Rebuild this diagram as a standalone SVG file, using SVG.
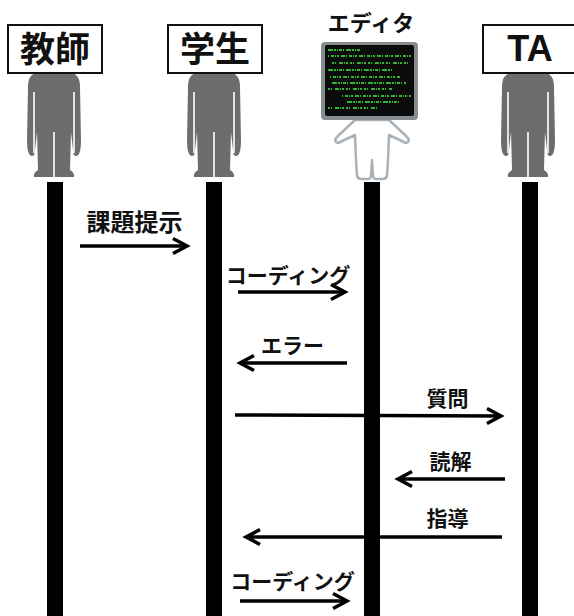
<svg xmlns="http://www.w3.org/2000/svg" xmlns:xlink="http://www.w3.org/1999/xlink" width="574" height="616" viewBox="0 0 574 616">
  <style>
    .name { fill: #fff; stroke: #111; stroke-width: 2; }
    .nameText { font-family: "Noto Sans CJK JP", "Liberation Sans", sans-serif; font-weight: bold; fill: #111; text-anchor: middle; }
    .lifeline { fill: #000; }
    .body { fill: #6d6d6d; }
    .gap { stroke: #fff; stroke-width: 1.6; fill: none; }
    .msg { stroke: #000; stroke-width: 3.5; fill: none; }
    .label { font-family: "Noto Sans CJK JP", sans-serif; font-weight: bold; font-size: 21px; fill: #111; text-anchor: middle; }
    .code { stroke: #3ef03e; stroke-width: 1.6; fill: none; }
    .c1 { stroke-dasharray: 5 1 2 1 1 1 3 1 1 2; }
    .c2 { stroke-dasharray: 1 2 3 1 1 1 2 2 4 1; }
    .c3 { stroke-dasharray: 2 1 1 3 4 1 1 1 2 2; }
  </style>
  <defs>
    <!-- standing person silhouette, centred on x=0, shoulders at y=0 -->
    <g id="person">
      <path class="body" d="M -17,0 Q -26,1 -26,14 L -27,67 Q -27,83 -22,83 Q -19,83 -19,77 L -17,59 L -16,97 Q -21,100 -20,104 L 20,104 Q 21,100 16,97 L 17,59 L 19,77 Q 19,83 22,83 Q 27,83 27,67 L 26,14 Q 26,1 17,0 Z"/>
      <path class="gap" d="M -20,19 L -20,80 M 20,19 L 20,80 M 0,59 L 0,105"/>
    </g>
    <marker id="arrow" markerUnits="userSpaceOnUse" markerWidth="24" markerHeight="24" viewBox="-20 -12 24 24" refX="0" refY="0" orient="auto">
      <path d="M -14,-7.5 L 0,0 L -14,7.5" stroke="#000" stroke-width="3.5" fill="none" stroke-linejoin="miter"/>
    </marker>
  </defs>

  <rect width="574" height="616" fill="#fff"/>

  <!-- messages -->
  <g id="connectors">
    <path class="msg" d="M 80,246 L 187,246" marker-end="url(#arrow)"/>
    <path class="msg" d="M 238,292 L 345,292" marker-end="url(#arrow)"/>
    <path class="msg" d="M 347,363 L 240,363" marker-end="url(#arrow)"/>
    <path class="msg" d="M 235,415 L 501,416" marker-end="url(#arrow)"/>
    <path class="msg" d="M 505,479 L 398,479" marker-end="url(#arrow)"/>
    <path class="msg" d="M 502,537 L 246,537" marker-end="url(#arrow)"/>
    <path class="msg" d="M 240,601 L 347,601" marker-end="url(#arrow)"/>

    <text class="label" x="134.5" y="231" style="font-size:24px">課題提示</text>
    <text class="label" x="288" y="283">コーディング</text>
    <text class="label" x="292.5" y="353">エラー</text>
    <text class="label" x="447.5" y="406">質問</text>
    <text class="label" x="450.5" y="469">読解</text>
    <text class="label" x="447.5" y="526">指導</text>
    <text class="label" x="292.5" y="589">コーディング</text>
  </g>

  <!-- 教師 -->
  <g id="teacher">
    <rect class="lifeline" x="47" y="182" width="16" height="434"/>
    <use xlink:href="#person" x="54" y="73"/>
    <rect class="name" x="8" y="25" width="94" height="48"/>
    <text class="nameText" x="55" y="62" font-size="35">教師</text>
  </g>

  <!-- 学生 -->
  <g id="student">
    <rect class="lifeline" x="206" y="182" width="16" height="434"/>
    <use xlink:href="#person" x="214" y="73"/>
    <rect class="name" x="168" y="25" width="94" height="48"/>
    <text class="nameText" x="215" y="62" font-size="35">学生</text>
  </g>

  <!-- エディタ -->
  <g id="editor">
    <rect class="lifeline" x="364" y="182" width="16" height="434"/>
    <path d="M 355,120 L 339,135 Q 332,141 338,143 L 355,135 L 356,160 L 357,176 Q 358,179 362,179 L 369,179 Q 371,178 371,175 L 372,160 L 373,175 Q 373,178 375,179 L 382,179 Q 386,179 387,176 L 388,160 L 389,135 L 406,143 Q 412,141 405,135 L 389,120 Z" fill="#fff" stroke="#aab2b9" stroke-width="2.5" stroke-linejoin="round"/>
    <rect x="321" y="42" width="97" height="78" rx="4" fill="#878c91"/>
    <rect x="325" y="45" width="89" height="71" rx="2" fill="#0b0b0b"/>
    <path class="code c1" d="M 328,50 L 360,50 M 328,70 L 392,70 M 332,83 L 406,83 M 347,102 L 400,102"/>
    <path class="code c2" d="M 328,56 L 411,56 M 330,77 L 400,77 M 342,96 L 411,96"/>
    <path class="code c3" d="M 332,63 L 411,63 M 328,89 L 392,89 M 328,108 L 378,108"/>
    <text class="nameText" x="371" y="31" font-size="22">エディタ</text>
  </g>

  <!-- TA -->
  <g id="ta">
    <rect class="lifeline" x="522" y="182" width="16" height="434"/>
    <use xlink:href="#person" x="528" y="73"/>
    <rect class="name" x="483" y="25" width="100" height="48"/>
    <text class="nameText" x="530" y="61" font-size="36" style="font-family:'Liberation Sans', sans-serif">TA</text>
  </g>
</svg>
